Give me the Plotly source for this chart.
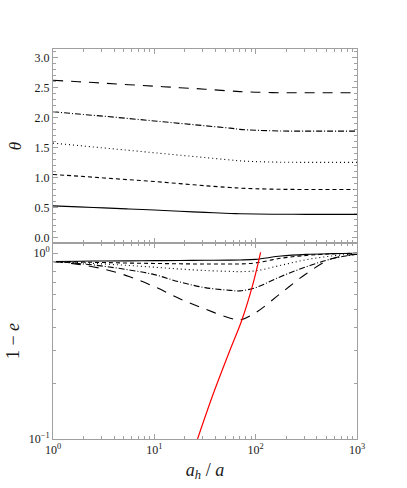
import plotly.graph_objects as go

# ------------------------------------------------------------------ #
# Data
# ------------------------------------------------------------------ #
AH_OVER_A = [1, 1.78, 3.16, 5.62, 10, 17.8, 31.6, 56.2, 70, 100, 178, 316, 562, 1000]

THETA = {
    "solid": [0.524, 0.507, 0.49, 0.472, 0.455, 0.435, 0.415, 0.398, 0.393, 0.388, 0.384, 0.383, 0.383, 0.383],
    "short": [1.047, 1.02, 0.99, 0.96, 0.93, 0.895, 0.86, 0.83, 0.82, 0.81, 0.80, 0.798, 0.797, 0.797],
    "dot": [1.571, 1.53, 1.49, 1.45, 1.41, 1.37, 1.33, 1.29, 1.275, 1.262, 1.252, 1.25, 1.25, 1.25],
    "dashdot": [2.094, 2.055, 2.02, 1.98, 1.94, 1.90, 1.86, 1.82, 1.80, 1.785, 1.773, 1.77, 1.77, 1.77],
    "long": [2.618, 2.595, 2.57, 2.545, 2.52, 2.495, 2.47, 2.44, 2.43, 2.42, 2.41, 2.41, 2.41, 2.41],
}

ONE_MINUS_E = {
    "solid": [0.902, 0.906, 0.908, 0.910, 0.912, 0.914, 0.916, 0.918, 0.920, 0.927, 0.966, 0.986, 0.995, 1.0],
    "short": [0.902, 0.897, 0.891, 0.885, 0.881, 0.877, 0.875, 0.875, 0.875, 0.887, 0.940, 0.973, 0.991, 1.0],
    "dot": [0.902, 0.891, 0.875, 0.859, 0.841, 0.822, 0.807, 0.798, 0.796, 0.804, 0.861, 0.923, 0.966, 0.995],
    "dashdot": [0.902, 0.881, 0.851, 0.813, 0.767, 0.700, 0.653, 0.631, 0.627, 0.653, 0.750, 0.845, 0.933, 0.989],
    "long": [0.902, 0.871, 0.822, 0.750, 0.661, 0.569, 0.501, 0.447, 0.437, 0.479, 0.610, 0.776, 0.933, 0.989],
}

RED_X = [26.7, 38.0, 55.0, 73.1, 93.5, 111.9]
RED_Y = [0.1, 0.174, 0.295, 0.437, 0.675, 1.01]

THETA_TICKS = [0.0, 0.5, 1.0, 1.5, 2.0, 2.5, 3.0]
THETA_LABELS = ["0.0", "0.5", "1.0", "1.5", "2.0", "2.5", "3.0"]
X_TICKS = [1, 10, 100, 1000]
X_LABELS = ["10<sup>0</sup>", "10<sup>1</sup>", "10<sup>2</sup>", "10<sup>3</sup>"]
X_MINOR = [m * d for d in (1, 10, 100) for m in range(2, 10)]
E_TICKS = [0.1, 1]
E_LABELS = ["10<sup>\u22121</sup>", "10<sup>0</sup>"]
E_MINOR = [0.2, 0.3, 0.4, 0.5, 0.6, 0.7, 0.8, 0.9]

# ------------------------------------------------------------------ #
# Style tokens
# ------------------------------------------------------------------ #
FONT = "Liberation Serif, Times New Roman, serif"
AXIS = "#a0a0a0"
INK = "#1a1a1a"
DASHES = {
    "solid": "solid",
    "short": "4px,3px",
    "dot": "1px,3px",
    "dashdot": "6px,2px,1px,2px",
    "long": "10px,8px",
}

fig = go.Figure()
for key, ys in THETA.items():
    fig.add_trace(go.Scatter(x=AH_OVER_A, y=ys, mode="lines", line_shape="spline",
                             line=dict(color="black", width=1.1, dash=DASHES[key]),
                             xaxis="x", yaxis="y", showlegend=False))
for key, ys in ONE_MINUS_E.items():
    fig.add_trace(go.Scatter(x=AH_OVER_A, y=ys, mode="lines", line_shape="spline",
                             line=dict(color="black", width=1.1, dash=DASHES[key]),
                             xaxis="x2", yaxis="y2", showlegend=False))
fig.add_trace(go.Scatter(x=RED_X, y=RED_Y, mode="lines", line_shape="spline",
                         line=dict(color="red", width=1.2),
                         xaxis="x2", yaxis="y2", showlegend=False))

split = 196 / 390
common = dict(showline=True, linecolor=AXIS, linewidth=1, mirror="ticks",
              ticks="inside", tickcolor=AXIS, ticklen=5, showgrid=False, zeroline=False,
              tickfont=dict(family=FONT, size=12, color=INK))
x_minor = dict(ticks="inside", ticklen=3, tickcolor=AXIS, tickvals=X_MINOR, showgrid=False)
e_minor = dict(ticks="inside", ticklen=3, tickcolor=AXIS, tickvals=E_MINOR, showgrid=False)

fig.update_layout(
    width=407, height=488,
    margin=dict(l=48, r=50, t=49, b=49),
    paper_bgcolor="white", plot_bgcolor="white",
    font=dict(family=FONT, size=12, color=INK),
    xaxis=dict(type="log", range=[0, 3], domain=[0, 1], anchor="y",
               tickvals=X_TICKS, showticklabels=False, minor=x_minor, **common),
    yaxis=dict(range=[-0.095, 3.14], domain=[split, 1], anchor="x",
               tickvals=THETA_TICKS, ticktext=THETA_LABELS,
               minor=dict(ticks="inside", ticklen=3, tickcolor=AXIS, dtick=0.1, showgrid=False),
               title=dict(text="<i>\u03b8</i>", font=dict(family=FONT, size=17, color=INK), standoff=8),
               **common),
    xaxis2=dict(type="log", range=[0, 3], domain=[0, 1], anchor="y2",
                tickvals=X_TICKS, ticktext=X_LABELS, minor=x_minor,
                title=dict(text="<i>a<sub>h</sub></i> / <i>a</i>",
                           font=dict(family=FONT, size=18, color=INK), standoff=6),
                **common),
    yaxis2=dict(type="log", range=[-1, 0.055], domain=[0, split], anchor="x2",
                tickvals=E_TICKS, ticktext=E_LABELS, minor=e_minor,
                title=dict(text="1 \u2212 <i>e</i>", font=dict(family=FONT, size=18, color=INK), standoff=4),
                **common),
)

fig.write_html("out.html", config={"displayModeBar": False},
               post_script="document.body.style.margin='0';")
